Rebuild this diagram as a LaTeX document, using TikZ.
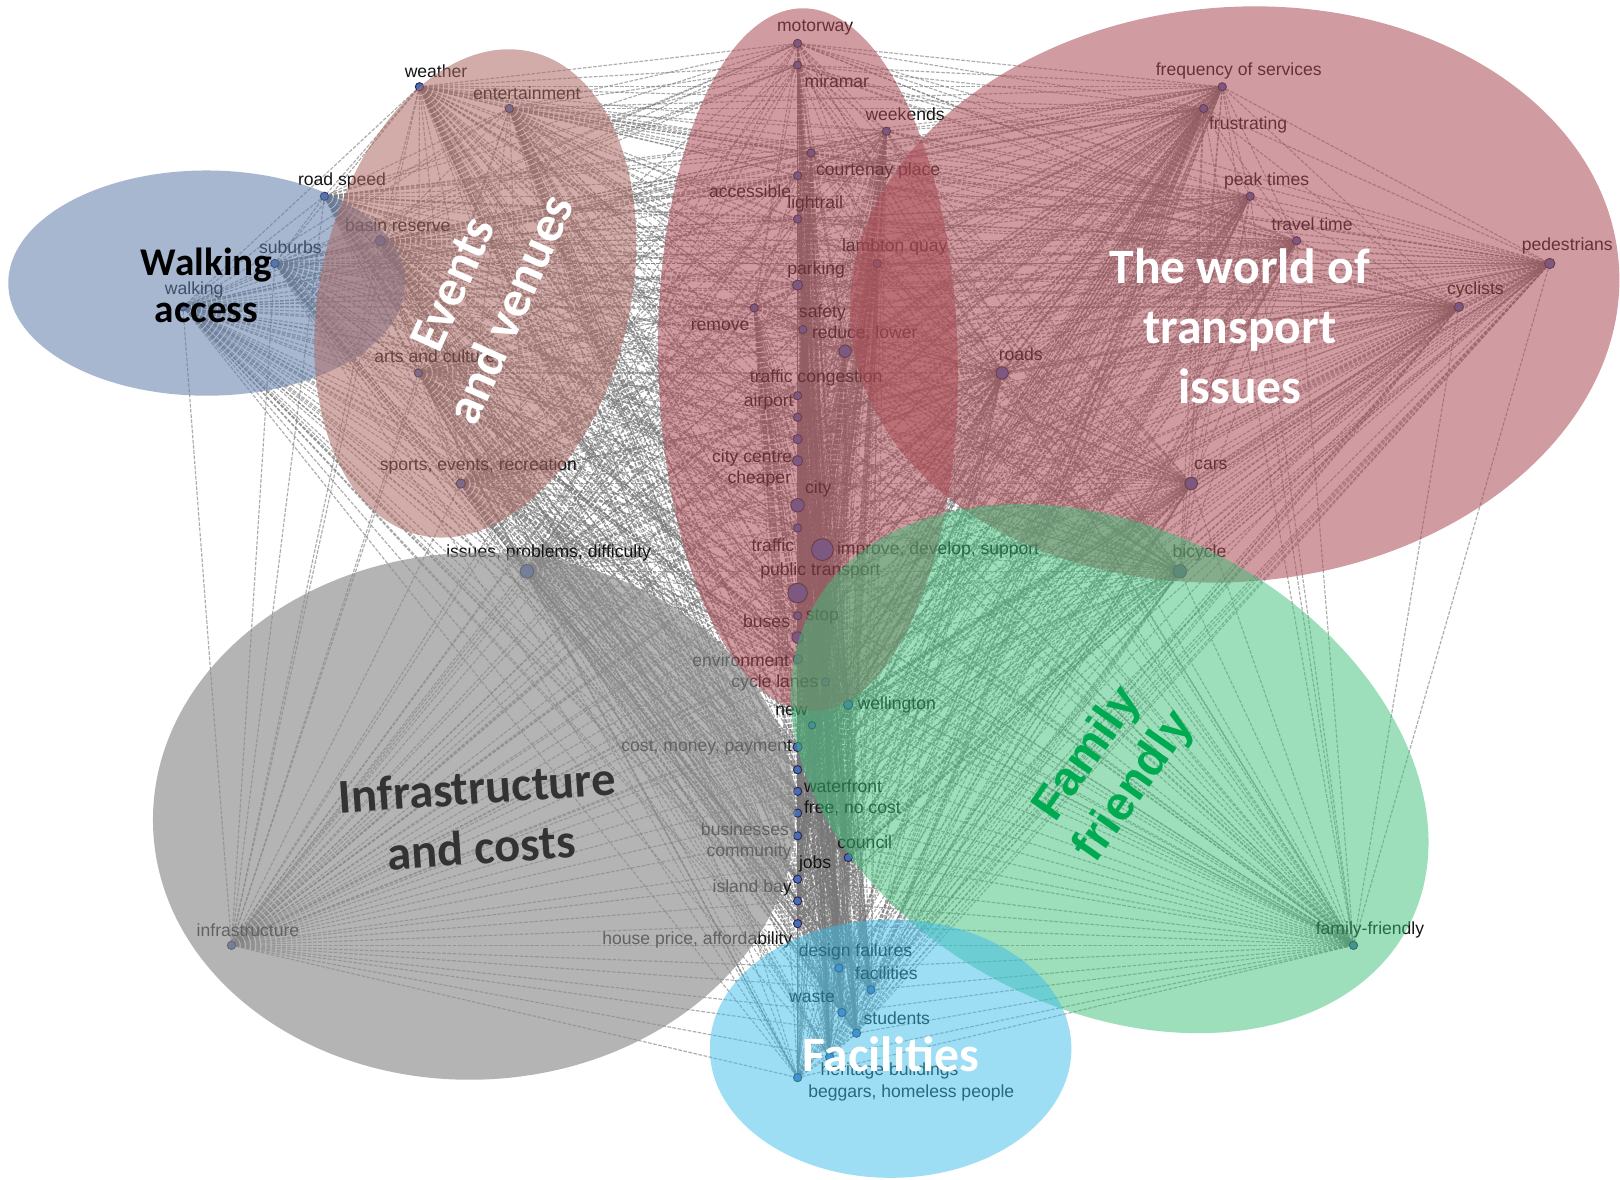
\documentclass[tikz,border=0pt]{standalone}
\usepackage{fontspec}
\setmainfont{Liberation Sans}
\newfontfamily\titlefont{Carlito}
\definecolor{dotblue}{RGB}{72,108,184}
\definecolor{dotedge}{RGB}{40,40,70}
\definecolor{edgegray}{RGB}{120,120,120}
\definecolor{walkc}{RGB}{95,125,170}
\definecolor{eventc}{RGB}{172,105,100}
\definecolor{redc}{RGB}{170,75,85}
\definecolor{greenc}{RGB}{60,190,120}
\definecolor{facc}{RGB}{60,190,235}
\definecolor{infc}{RGB}{140,140,140}
\definecolor{ffgreen}{RGB}{0,170,80}
\definecolor{labelc}{RGB}{20,20,20}
\definecolor{infratext}{RGB}{51,51,51}
\begin{document}
\begin{tikzpicture}[x=1pt,y=-1pt,
  dot/.style={circle,fill=dotblue,draw=dotedge,line width=0.9pt,inner sep=0pt},
  edge/.style={draw=edgegray,line width=1.1pt,dash pattern=on 3.5pt off 1.5pt,opacity=0.62},
  lab/.style={text=labelc,font=\fontsize{17}{20}\selectfont,inner sep=0pt},
  blob/.style={opacity=#1},
  ttl/.style={align=center,inner sep=0pt}
]
\fill[white] (0,0) rectangle (1568,1142);
\useasboundingbox (0,0) rectangle (1568,1142);

% keyword positions
\foreach \x/\y/\d [count=\k] in {
406/84/8, 493/105/8, 314/190/8, 368/233/10, 266/255/8, 177/297/8, 405/361/8, 446/468/9, 510/553/13, 224/915/8,
772/42/8, 772/63/8, 858/127/8, 785/148/8, 772/170/8, 772/212/8, 849/255/8, 772/276/10, 730/298/8, 777/319/8,
818/340/12, 772/383/8, 772/404/8, 772/425/9, 772/446/10, 772/489/13, 772/511/8, 796/532/21, 772/574/19, 772/596/8,
772/617/11, 772/638/9, 799/660/8, 821/682/9, 786/702/7, 772/723/9, 772/745/8, 772/766/8, 772/787/8, 772/809/8,
821/830/8, 772/851/8, 772/872/8, 772/894/8, 812/937/8, 843/958/8, 815/980/8, 829/1000/8, 803/1023/8, 772/1043/8,
1183/84/8, 1165/105/8, 1210/190/8, 1255/233/8, 1500/255/10, 1412/297/9, 970/361/12, 1153/468/12, 1142/553/13, 1310/915/8}
  {\node[circle,inner sep=0pt,minimum size=\d pt] (d\k) at (\x,\y) {};}

% co-occurrence links
\foreach \i in {1,...,59}{
  \pgfmathtruncatemacro\s{\i+1}
  \foreach \j in {\s,...,60}{\draw[edge] (d\i) -- (d\j);}
}
% dots drawn over the links
\foreach \d [count=\k] in {
8,8,8,10,8,8,8,9,13,8, 8,8,8,8,8,8,8,10,8,8,
12,8,8,9,10,13,8,21,19,8, 11,9,8,9,7,9,8,8,8,8,
8,8,8,8,8,8,8,8,8,8, 8,8,8,8,10,9,12,12,13,8}
  {\node[dot,minimum size=\d pt] (e\k) at (d\k.center) {};}

% labels
\foreach \x/\y/\t [count=\k] in {
422/69/weather, 510/90/entertainment, 331/175/road speed, 385/218/basin reserve, 281/239/suburbs,
188/281/walking, 421/345/arts and culture, 463/451/{sports, events, recreation}, 531/535/{issues, problems, difficulty},
240/900/infrastructure, 789/27/motorway, 810/79/miramar, 876/111/weekends, 850/165/courtenay place,
726/185/accessible, 789/197/lightrail, 866/239/lambton quay, 790/261/parking, 697/315/remove, 796/303/safety,
837/323/{reduce, lower}, 790/366/traffic congestion, 744/389/airport, 728/443/city centre, 735/464/cheaper,
792/473/city, 748/528/traffic, 908/532/{improve, develop, support}, 794/553/public transport, 742/601/buses,
796/597/stop, 717/639/environment, 750/661/cycle lanes, 868/682/wellington, 766/688/new,
684/724/{cost, money, payment}, 816/761/waterfront, 825/782/{free, no cost}, 721/803/businesses, 725/825/community,
837/815/council, 789/836/jobs, 728/859/island bay, 675/910/{house price, affordability}, 828/921/design failures,
858/942/facilities, 786/965/waste, 868/986/students, 861/1037/heritage buildings, 882/1058/{beggars, homeless people},
1199/69/frequency of services, 1208/121/frustrating, 1226/175/peak times, 1270/217/travel time, 1517/238/pedestrians,
1428/281/cyclists, 988/343/roads, 1172/450/cars, 1161/535/bicycle, 1326/900/family-friendly}
  {\node[lab] (l\k) at (\x,\y) {\t};}

% cluster ellipses
\fill[infc,blob=0.65,rotate around={2:(459,790)}] (459,790) ellipse [x radius=311pt, y radius=255pt];
\fill[walkc,blob=0.55] (200,274) ellipse [x radius=192pt, y radius=109pt];
\fill[eventc,blob=0.55,rotate around={-13:(460,284)}] (460,284) ellipse [x radius=150pt, y radius=240pt];
\fill[redc,blob=0.55,rotate around={1:(782,348)}] (782,348) ellipse [x radius=145pt, y radius=340pt];
\fill[redc,blob=0.55,rotate around={5:(1195,285)}] (1195,285) ellipse [x radius=373pt, y radius=278pt];
\fill[greenc,blob=0.5,rotate around={-28:(1074,744)}] (1074,744) ellipse [x radius=327pt, y radius=232pt];
\fill[facc,blob=0.5] (862,1015) ellipse [x radius=175pt, y radius=125pt];

% cluster titles
\node[ttl,font=\titlefont\bfseries\fontsize{38}{45}\selectfont,text=black] (twalk) at (200,276) {Walking\\access};
\node[ttl,font=\titlefont\bfseries\fontsize{50}{61}\selectfont,text=white,rotate=66] (tevents) at (466,287) {Events\\and venues};
\node[ttl,font=\titlefont\bfseries\fontsize{48}{58}\selectfont,text=white] (tworld) at (1200,316) {The world of\\transport\\issues};
\node[ttl,font=\titlefont\bfseries\fontsize{47}{58}\selectfont,text=infratext,rotate=4] (tinfra) at (464,791) {Infrastructure\\and costs};
\node[ttl,font=\bfseries\fontsize{46}{55}\selectfont,text=ffgreen,rotate=55] (tfam) at (1076,746) {Family\\friendly};
\node[ttl,font=\titlefont\bfseries\fontsize{48}{58}\selectfont,text=white] (tfac) at (862,1020) {Facilities};
\end{tikzpicture}
\end{document}
